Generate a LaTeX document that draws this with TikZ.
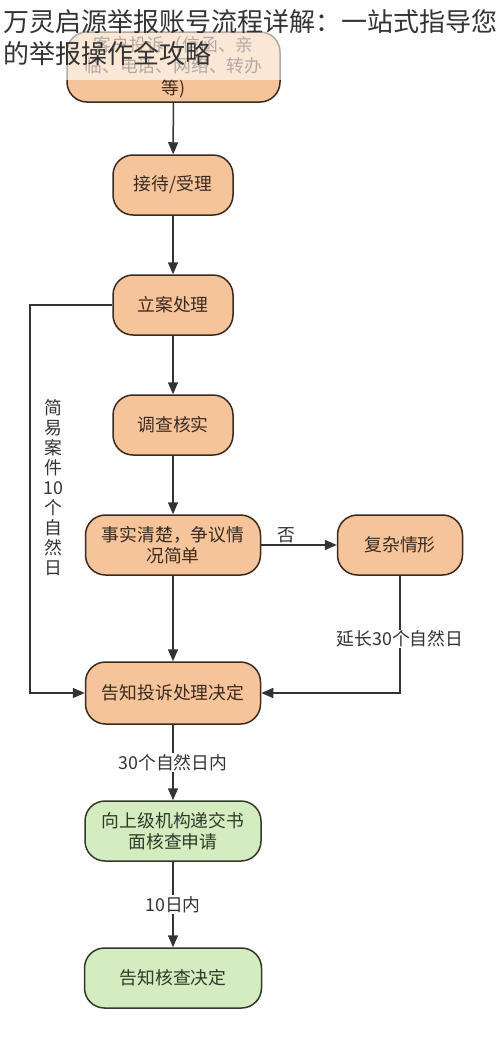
\documentclass[tikz,border=0pt]{standalone}
\usepackage{fontspec}
\newfontfamily\cjk{Noto Sans CJK SC}
\usetikzlibrary{arrows.meta}
\definecolor{stepfill}{HTML}{F5C49A}
\definecolor{stepline}{HTML}{3B2A1E}
\definecolor{endfill}{HTML}{D5EBC0}
\definecolor{endline}{HTML}{2F3A2A}
\definecolor{linkgray}{HTML}{333333}

\begin{document}
\begin{tikzpicture}[x=1pt,y=-1pt,
    stepbox/.style={draw=stepline,fill=stepfill,line width=1.5pt,rounded corners=20pt,
      inner sep=0pt,align=center,text=stepline,font=\fontsize{17.8}{21.5}\selectfont\cjk},
    endbox/.style={stepbox,draw=endline,fill=endfill,text=endline},
    link/.style={line width=1.5pt,draw=linkgray,-{Triangle[length=12pt,width=10pt]}},
    lbl/.style={font=\fontsize{17.8}{20}\selectfont\cjk,text=linkgray,inner sep=1pt,align=center}]
    \useasboundingbox (0,0) rectangle (500,1039);

    % steps
    \node[stepbox,minimum width=213pt,minimum height=70pt] (complain) at (173.5,67)
        {客户投诉（信函、亲\\临、电话、网络、转办\\等)};
    \node[stepbox,minimum width=120pt,minimum height=60pt] (accept) at (173,185) {接待/受理};
    \node[stepbox,minimum width=120pt,minimum height=60pt] (file) at (173,305) {立案处理};
    \node[stepbox,minimum width=120pt,minimum height=60pt] (check) at (173,425) {调查核实};
    \node[stepbox,minimum width=175pt,minimum height=60pt] (simple) at (173,545) {事实清楚，争议情\\况简单};
    \node[stepbox,minimum width=125pt,minimum height=60pt] (complex) at (400,545) {复杂情形};
    \node[stepbox,minimum width=175pt,minimum height=62pt] (notify) at (173,693) {告知投诉处理决定};
    \node[endbox,minimum width=176pt,minimum height=60pt] (review) at (173,831) {向上级机构递交书\\面核查申请};
    \node[endbox,minimum width=177pt,minimum height=60pt] (result) at (173,978) {告知核查决定};

    % links
    \foreach \a/\b in {complain/accept,accept/file,file/check,check/simple,simple/notify} {
        \draw[link] (\a) -- (\b);
    }
    \draw[link] (simple) -- node[lbl,above,pos=0.33] {否} (complex);
    \draw[link] (complex.south) |- node[lbl,fill=white,pos=0.27] {延长30个自然日} (notify.east);
    \coordinate (left) at (30,305);
    \draw[link] (file.west) -- (left) |- (notify.west);
    \node[lbl] (fast) at (53,488) {简\\易\\案\\件\\10\\个\\自\\然\\日};
    \draw[link] (notify) -- node[lbl,fill=white] {30个自然日内} (review);
    \draw[link] (review) -- node[lbl,fill=white] {10日内} (result);

    % title band
    \fill[white,opacity=0.6] (0,0) rectangle (500,80);
    \node[anchor=west,inner sep=0pt,text=linkgray,font=\fontsize{26}{30}\selectfont\cjk] (title1) at (3,22)
        {万灵启源举报账号流程详解：一站式指导您};
    \node[anchor=west,inner sep=0pt,text=linkgray,font=\fontsize{26}{30}\selectfont\cjk] (title2) at (3,54)
        {的举报操作全攻略};
\end{tikzpicture}
\end{document}
